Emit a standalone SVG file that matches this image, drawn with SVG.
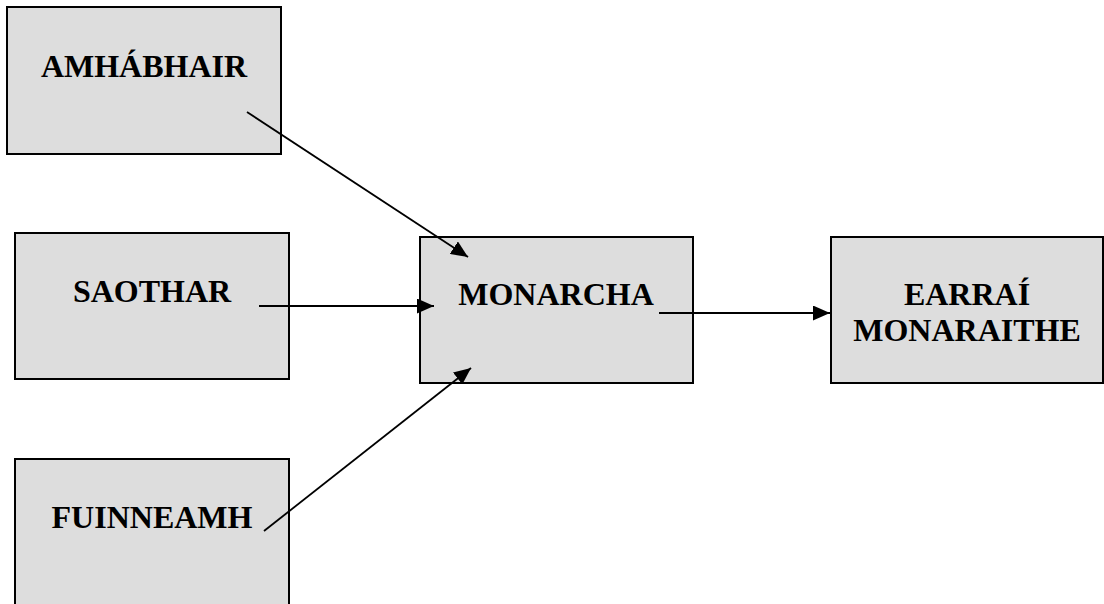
<svg xmlns="http://www.w3.org/2000/svg" width="1104" height="604" viewBox="0 0 1104 604">
<style>
.box{fill:#dddddd;stroke:#000;stroke-width:2}
.lbl{font-family:"Liberation Serif","Times New Roman",serif;font-weight:bold;font-size:32px;fill:#000;text-anchor:middle}
.conn{stroke:#000;stroke-width:1.8;fill:none;marker-end:url(#arr)}
</style>
<defs>
<marker id="arr" markerUnits="userSpaceOnUse" markerWidth="17" markerHeight="15" refX="17" refY="7.5" orient="auto">
<path d="M0,0 L17,7.5 L0,15 z" fill="#000"/>
</marker>
</defs>
<rect width="1104" height="604" fill="#fff"/>
<g id="amhabhair"><rect class="box" x="7" y="7" width="274" height="147"/><text class="lbl" x="144" y="77">AMHÁBHAIR</text></g>
<g id="saothar"><rect class="box" x="15" y="233" width="274" height="146"/><text class="lbl" x="152" y="302">SAOTHAR</text></g>
<g id="fuinneamh"><rect class="box" x="15" y="459" width="274" height="160"/><text class="lbl" x="152" y="528">FUINNEAMH</text></g>
<g id="monarcha"><rect class="box" x="420" y="237" width="273" height="146"/><text class="lbl" x="556" y="305">MONARCHA</text></g>
<g id="earrai"><rect class="box" x="831" y="237" width="272" height="146"/><text class="lbl" x="967" y="305">EARRAÍ</text><text class="lbl" x="967" y="341">MONARAITHE</text></g>
<g id="connectors">
<line class="conn" x1="247" y1="112" x2="468" y2="257"/>
<line class="conn" x1="259" y1="306" x2="434" y2="306"/>
<line class="conn" x1="264" y1="531" x2="471" y2="368"/>
<line class="conn" x1="659" y1="313" x2="830" y2="313"/>
</g>
</svg>
